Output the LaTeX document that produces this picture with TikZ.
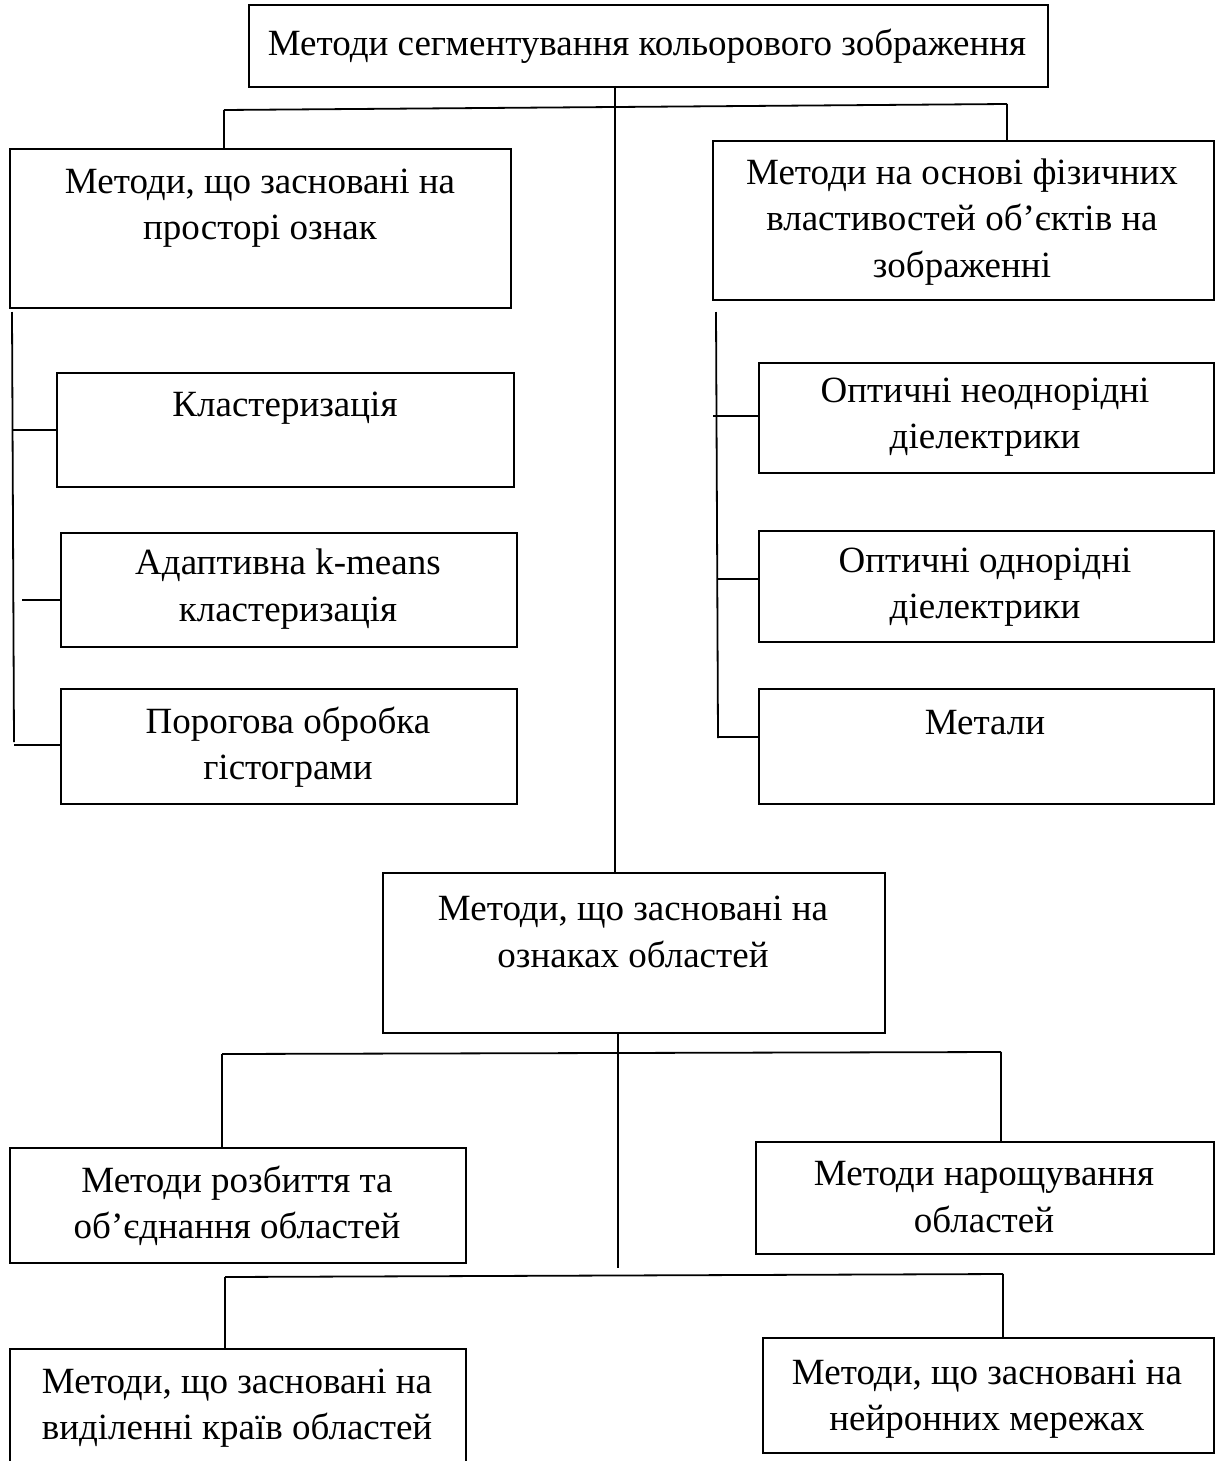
\documentclass[tikz,border=0pt]{standalone}
\usepackage{fontspec}
\setmainfont{Liberation Serif}
\usetikzlibrary{calc,positioning}
\tikzset{
  box/.style={draw, line width=2.4pt, anchor=north west, inner sep=0pt},
  txt/.style={align=center, inner sep=0pt, font=\fontsize{37}{46.5}\selectfont},
  ln/.style={line width=1.8pt}
}
\begin{document}
\begin{tikzpicture}[x=1pt,y=-1pt]
\useasboundingbox (0,0) rectangle (1224,1461);
% boxes
\node[box, minimum width=799, minimum height=82] (top) at (248,4) {};
\node[box, minimum width=501, minimum height=159] (space) at (9,148) {};
\node[box, minimum width=501, minimum height=159] (phys) at (712,140) {};
\node[box, minimum width=457, minimum height=114] (clust) at (56,372) {};
\node[box, minimum width=456, minimum height=114] (kmeans) at (60,532) {};
\node[box, minimum width=456, minimum height=115] (thresh) at (60,688) {};
\node[box, minimum width=455, minimum height=110] (nonhom) at (758,362) {};
\node[box, minimum width=455, minimum height=111] (hom) at (758,530) {};
\node[box, minimum width=455, minimum height=115] (metal) at (758,688) {};
\node[box, minimum width=502, minimum height=160] (region) at (382,872) {};
\node[box, minimum width=456, minimum height=115] (split) at (9,1147) {};
\node[box, minimum width=458, minimum height=112] (grow) at (755,1141) {};
\node[box, minimum width=456, minimum height=130] (edge) at (9,1348) {};
\node[box, minimum width=451, minimum height=115] (neural) at (762,1337) {};

% texts
\node[txt] (ttop) at (647,46) {Методи сегментування кольорового зображення};
\node[txt] (tspace) at (260,208) {Методи, що засновані на\\просторі ознак};
\node[txt] (tphys) at (962,222) {Методи на основі фізичних\\властивостей об’єктів на\\зображенні};
\node[txt] (tclust) at (285,408) {Кластеризація};
\node[txt] (tkmeans) at (288,589) {Адаптивна k-means\\кластеризація};
\node[txt] (tthresh) at (288,747) {Порогова обробка\\гістограми};
\node[txt] (tnonhom) at (985,417) {Оптичні неоднорідні\\діелектрики};
\node[txt] (thom) at (985,587) {Оптичні однорідні\\діелектрики};
\node[txt] (tmetal) at (985,723) {Метали};
\node[txt] (tregion) at (633,932) {Методи, що засновані на\\ознаках областей};
\node[txt] (tsplit) at (237,1206) {Методи розбиття та\\об’єднання областей};
\node[txt] (tgrow) at (984,1197) {Методи нарощування\\областей};
\node[txt] (tedge) at (237,1408) {Методи, що засновані на\\виділенні країв областей};
\node[txt] (tneural) at (987,1399) {Методи, що засновані на\\нейронних мережах};

% trunk
\coordinate (t0) at (615,86);
\draw[ln] (t0) -- (region.north -| t0);
\coordinate (busL) at (224,110);
\coordinate (busR) at (1007,104);
\draw[ln] (busL) -- (busR);
\draw[ln] (busL) -- (space.north -| busL);
\draw[ln] (busR) -- (phys.north -| busR);

% left branch
\coordinate (sL1) at (12,312);
\coordinate (sL2) at (14,742);
\draw[ln] (sL1) -- (sL2);
\draw[ln] (12,430) -- (clust.west |- 0,430);
\draw[ln] (22,600) -- (kmeans.west |- 0,600);
\draw[ln] (14,745) -- (thresh.west |- 0,745);

% right branch
\coordinate (sR1) at (716,312);
\coordinate (sR2) at (718,738);
\draw[ln] (sR1) -- (sR2);
\draw[ln] (713,416) -- (nonhom.west |- 0,416);
\draw[ln] (717,579) -- (hom.west |- 0,579);
\draw[ln] (718,737) -- (metal.west |- 0,737);

% lower part
\coordinate (m0) at (618,1032);
\coordinate (m1) at (618,1268);
\draw[ln] (m0) -- (m1);
\coordinate (bus2L) at (222,1054);
\coordinate (bus2R) at (1001,1052);
\draw[ln] (bus2L) -- (bus2R);
\draw[ln] (bus2L) -- (split.north -| bus2L);
\draw[ln] (bus2R) -- (grow.north -| bus2R);
\coordinate (bus3L) at (225,1277);
\coordinate (bus3R) at (1003,1274);
\draw[ln] (bus3L) -- (bus3R);
\draw[ln] (bus3L) -- (edge.north -| bus3L);
\draw[ln] (bus3R) -- (neural.north -| bus3R);
\end{tikzpicture}
\end{document}
